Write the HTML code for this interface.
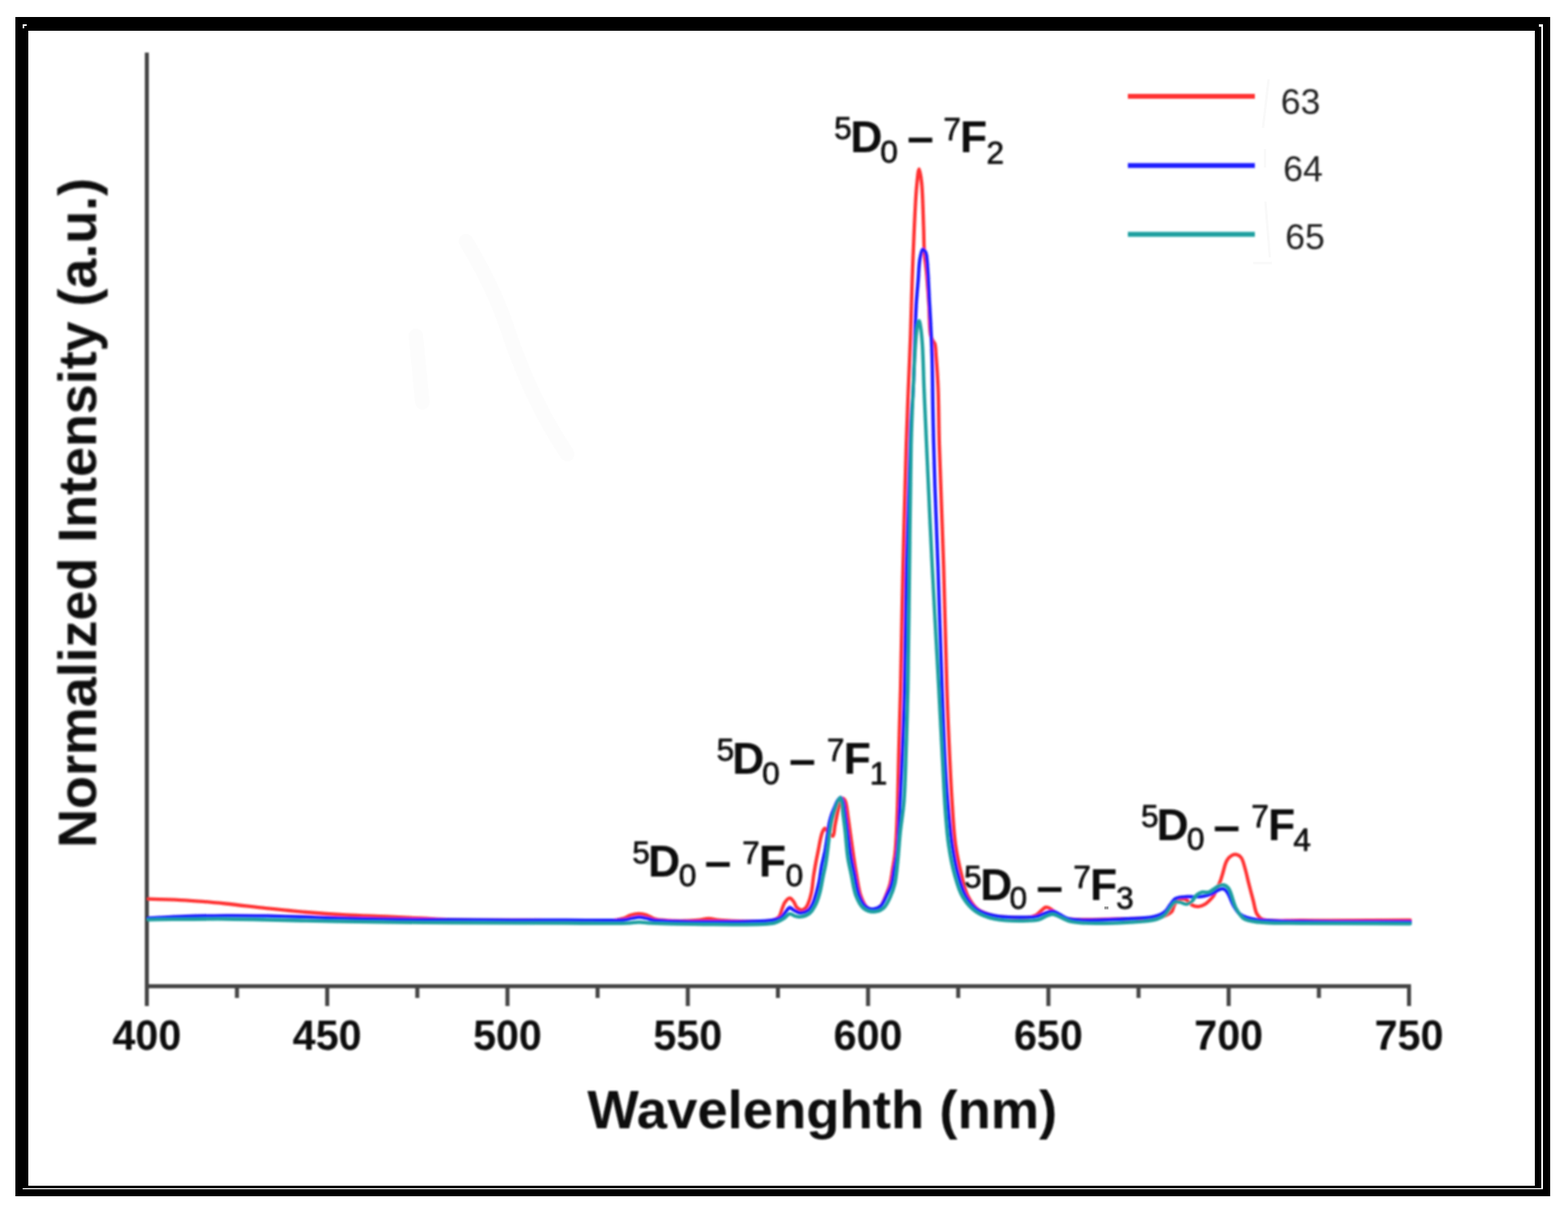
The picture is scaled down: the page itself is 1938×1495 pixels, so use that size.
<!DOCTYPE html>
<html><head><meta charset="utf-8"><title>Normalized emission spectra</title>
<style>
html,body{margin:0;padding:0;background:#fff;}
body{width:1938px;height:1495px;overflow:hidden;position:relative;}
svg{position:absolute;left:0;top:0;display:block;}
.s{font-size:39px;font-weight:normal;stroke:#0a0a0a;stroke-width:0.8px;}
.d{font-size:59px;}
</style></head>
<body>
<svg width="1938" height="1495" viewBox="0 0 1938 1495">
<defs><filter id="soft" x="-0.05" y="-0.05" width="1.1" height="1.1"><feGaussianBlur stdDeviation="0.8"/></filter></defs>
<rect x="0" y="0" width="1938" height="1495" fill="#fff"/>
<!-- frame -->
<rect x="19" y="21" width="1897" height="1457" fill="#000"/>
<rect x="35" y="38" width="1862" height="1427" fill="#fff"/>
<rect x="1905" y="30" width="2" height="1439" fill="#fff"/>
<rect x="28" y="1468" width="1879" height="1.3" fill="#fff"/>
<rect x="28" y="30" width="5" height="2" fill="#fff"/>
<rect x="28" y="30" width="2" height="5" fill="#fff"/>
<rect x="1902" y="30" width="5" height="3" fill="#fff"/>
<!-- faint strokes -->
<g stroke="#fcfcfc" stroke-width="18" stroke-linecap="round" fill="none">
<path d="M576,298 C595,330 615,370 625,400 C638,440 660,500 701,561"/>
<path d="M514,415 L522,497"/>
</g>
<g stroke="#f9f9f9" stroke-width="3" fill="none">
<path d="M1568,98 L1561,158"/>
<path d="M1563.5,184 L1563.5,207"/>
<path d="M1564,249 L1569.5,318"/>
<path d="M1549,325 L1572,325"/>
</g>
<!-- axes -->
<g filter="url(#soft)" stroke="#444" stroke-width="5" fill="none">
<line x1="181.5" y1="65" x2="181.5" y2="1243"/>
<line x1="179" y1="1218.5" x2="1744" y2="1218.5"/>
<line x1="181.5" y1="1218.5" x2="181.5" y2="1243"/>
<line x1="292.9" y1="1218.5" x2="292.9" y2="1233"/>
<line x1="404.4" y1="1218.5" x2="404.4" y2="1243"/>
<line x1="515.8" y1="1218.5" x2="515.8" y2="1233"/>
<line x1="627.2" y1="1218.5" x2="627.2" y2="1243"/>
<line x1="738.6" y1="1218.5" x2="738.6" y2="1233"/>
<line x1="850.1" y1="1218.5" x2="850.1" y2="1243"/>
<line x1="961.5" y1="1218.5" x2="961.5" y2="1233"/>
<line x1="1072.9" y1="1218.5" x2="1072.9" y2="1243"/>
<line x1="1184.3" y1="1218.5" x2="1184.3" y2="1233"/>
<line x1="1295.8" y1="1218.5" x2="1295.8" y2="1243"/>
<line x1="1407.2" y1="1218.5" x2="1407.2" y2="1233"/>
<line x1="1518.6" y1="1218.5" x2="1518.6" y2="1243"/>
<line x1="1630.1" y1="1218.5" x2="1630.1" y2="1233"/>
<line x1="1741.5" y1="1218.5" x2="1741.5" y2="1243"/>
</g>
<!-- curves -->
<g filter="url(#soft)" fill="none" stroke-width="4.3" stroke-linejoin="round" stroke-linecap="round">
<path stroke="#ff3232" d="M183.0,1110.7 C198.5,1111.2 213.8,1111.4 229.5,1112.3 C245.8,1113.3 262.5,1114.9 279.0,1116.5 C295.5,1118.2 312.1,1120.4 328.6,1122.2 C345.1,1123.9 361.7,1125.6 378.2,1127.0 C394.7,1128.4 411.2,1129.6 427.7,1130.5 C444.2,1131.4 461.3,1131.8 477.2,1132.5 C492.0,1133.1 506.0,1133.9 520.0,1134.5 C533.6,1135.1 544.0,1135.9 560.0,1136.3 C584.0,1136.9 618.5,1136.9 650.0,1137.0 C684.8,1137.1 742.4,1139.0 760.0,1137.0 C765.6,1136.4 767.6,1135.6 771.0,1134.5 C774.2,1133.4 776.9,1131.4 780.0,1130.5 C783.1,1129.6 786.3,1129.0 789.5,1129.0 C792.7,1129.0 795.9,1129.5 799.0,1130.5 C802.1,1131.5 804.7,1133.9 808.0,1135.0 C811.6,1136.2 814.8,1136.6 820.0,1137.0 C829.7,1137.8 851.8,1137.8 862.0,1137.0 C867.9,1136.5 871.3,1134.8 876.0,1134.8 C880.7,1134.8 883.6,1136.5 890.0,1137.0 C903.7,1138.1 944.1,1139.7 955.0,1137.0 C959.0,1136.0 960.8,1135.0 962.7,1133.0 C964.6,1130.9 965.0,1127.2 966.2,1124.3 C967.4,1121.3 968.2,1117.5 970.0,1115.0 C971.6,1112.8 974.2,1109.7 976.1,1109.7 C977.8,1109.7 979.6,1112.3 981.0,1114.0 C982.5,1115.9 982.9,1119.1 984.5,1120.8 C986.0,1122.4 988.2,1124.1 990.1,1124.3 C991.7,1124.5 993.6,1123.6 995.0,1122.5 C996.5,1121.3 997.4,1119.5 998.5,1117.2 C1000.1,1113.7 1001.7,1108.4 1002.8,1103.2 C1004.2,1096.9 1004.6,1088.7 1005.6,1082.0 C1006.5,1076.0 1007.5,1070.5 1008.5,1065.0 C1009.5,1059.8 1010.6,1054.8 1011.5,1050.0 C1012.4,1045.5 1013.1,1040.9 1014.0,1037.0 C1014.8,1033.7 1015.4,1030.4 1016.5,1028.0 C1017.3,1026.2 1018.5,1023.6 1019.5,1023.5 C1020.3,1023.4 1021.1,1025.0 1022.0,1026.0 C1023.2,1027.4 1024.6,1029.8 1026.0,1031.0 C1027.1,1032.0 1028.6,1033.4 1029.5,1033.0 C1031.2,1032.2 1031.0,1024.9 1032.0,1020.0 C1033.2,1013.7 1035.0,1003.9 1036.4,998.4 C1037.3,994.9 1037.8,992.1 1039.0,990.0 C1039.8,988.5 1041.0,986.5 1042.0,986.5 C1042.9,986.5 1043.8,987.8 1044.5,989.0 C1045.5,990.8 1045.9,994.1 1046.5,997.0 C1047.1,1000.4 1047.4,1003.9 1048.0,1008.0 C1048.7,1013.3 1049.5,1019.1 1050.5,1026.0 C1051.8,1035.5 1053.8,1050.2 1055.3,1060.0 C1056.4,1067.6 1057.2,1072.8 1058.5,1080.0 C1060.0,1088.3 1061.3,1099.6 1064.0,1107.0 C1066.0,1112.6 1068.3,1118.2 1071.5,1121.0 C1073.8,1123.0 1076.8,1124.1 1079.5,1124.0 C1082.3,1123.9 1085.6,1122.3 1088.0,1120.0 C1091.1,1117.0 1093.0,1110.6 1095.0,1106.0 C1096.9,1101.6 1098.5,1097.7 1099.8,1093.0 C1101.3,1087.5 1102.0,1081.2 1103.0,1075.0 C1104.1,1068.3 1105.4,1062.1 1106.3,1054.0 C1107.5,1043.0 1108.1,1026.6 1108.6,1015.0 C1109.0,1005.7 1109.2,1000.3 1109.5,990.0 C1110.0,973.4 1110.4,947.4 1111.0,925.0 C1111.6,900.9 1112.4,879.3 1113.1,850.0 C1114.1,808.6 1114.9,750.0 1116.1,700.0 C1117.3,650.0 1118.8,590.6 1120.1,550.0 C1121.0,522.3 1121.8,503.0 1122.7,480.0 C1123.6,457.7 1124.6,436.1 1125.4,414.0 C1126.2,391.8 1126.6,369.3 1127.4,347.0 C1128.2,324.7 1129.1,300.7 1130.1,280.0 C1131.0,262.1 1131.7,243.1 1133.0,230.0 C1133.9,221.5 1134.9,209.0 1136.0,209.0 C1136.9,209.0 1138.2,218.0 1139.0,225.0 C1140.5,237.8 1140.9,264.0 1141.5,280.0 C1142.0,292.4 1141.8,303.1 1142.5,313.0 C1143.1,321.1 1144.2,326.6 1145.0,335.0 C1146.1,346.3 1147.1,361.7 1148.0,375.0 C1148.9,388.1 1148.5,406.3 1150.2,414.0 C1150.9,417.4 1152.0,419.0 1153.0,421.0 C1153.8,422.6 1154.9,423.1 1155.5,425.0 C1156.6,428.3 1156.5,433.8 1157.0,440.0 C1157.8,450.1 1158.9,464.8 1159.5,480.0 C1160.3,500.1 1160.2,522.3 1161.0,550.0 C1162.2,590.6 1164.7,650.0 1166.3,700.0 C1167.8,750.0 1168.8,806.4 1170.3,850.0 C1171.4,883.8 1172.8,914.4 1174.0,940.0 C1174.9,959.1 1175.6,973.1 1176.7,990.0 C1177.9,1007.5 1178.7,1027.3 1181.0,1043.5 C1182.9,1057.2 1185.7,1069.8 1188.5,1081.0 C1190.8,1090.4 1192.3,1099.1 1196.0,1106.5 C1199.3,1113.1 1203.1,1119.3 1208.5,1123.5 C1214.0,1127.7 1222.0,1129.9 1229.0,1131.5 C1235.8,1133.1 1243.1,1133.0 1250.0,1133.3 C1256.7,1133.6 1264.5,1134.3 1270.0,1133.6 C1273.9,1133.1 1277.2,1132.4 1280.0,1131.0 C1282.4,1129.8 1283.9,1127.6 1286.0,1126.0 C1288.2,1124.3 1290.4,1121.3 1292.8,1121.0 C1295.1,1120.7 1297.7,1122.5 1300.0,1124.0 C1302.7,1125.7 1305.0,1129.2 1308.0,1131.0 C1311.0,1132.8 1312.9,1134.0 1318.0,1135.0 C1332.0,1137.7 1379.4,1135.3 1400.0,1135.0 C1412.5,1134.8 1422.5,1135.1 1430.0,1134.0 C1434.6,1133.3 1437.8,1132.4 1441.0,1131.0 C1443.8,1129.8 1446.5,1128.4 1448.3,1126.3 C1450.1,1124.1 1450.2,1120.5 1451.6,1118.0 C1452.8,1115.7 1454.2,1113.2 1456.0,1112.0 C1457.5,1111.0 1459.3,1110.6 1461.0,1110.5 C1462.8,1110.4 1464.7,1110.8 1466.5,1111.8 C1468.7,1113.0 1470.5,1116.6 1473.0,1118.0 C1475.4,1119.4 1478.6,1120.2 1481.3,1120.1 C1484.1,1120.0 1487.1,1118.6 1489.5,1117.2 C1491.9,1115.8 1493.9,1113.6 1495.7,1111.8 C1497.3,1110.2 1498.6,1108.9 1499.9,1106.9 C1501.5,1104.5 1502.6,1101.0 1504.0,1098.0 C1505.4,1095.0 1506.9,1092.1 1508.1,1089.1 C1509.3,1086.1 1509.9,1083.5 1511.0,1080.0 C1512.5,1075.3 1513.9,1067.3 1516.4,1063.2 C1518.2,1060.2 1520.6,1057.9 1522.9,1056.7 C1524.7,1055.8 1526.6,1055.4 1528.4,1055.8 C1530.3,1056.2 1532.5,1057.5 1534.0,1059.5 C1536.2,1062.3 1537.3,1067.7 1538.7,1072.5 C1540.4,1078.1 1541.7,1084.7 1543.3,1091.1 C1545.1,1098.0 1547.1,1105.7 1548.9,1112.4 C1550.5,1118.3 1551.1,1125.1 1553.5,1129.2 C1555.2,1132.2 1556.3,1134.1 1560.0,1135.7 C1568.5,1139.4 1589.3,1136.8 1610.0,1137.1 C1643.7,1137.6 1698.7,1137.0 1743.0,1137.0"/>
<path stroke="#1e1eff" d="M183.0,1134.3 C198.5,1133.6 213.8,1132.7 229.5,1132.2 C245.7,1131.7 262.5,1131.4 279.0,1131.3 C295.5,1131.2 312.1,1131.4 328.6,1131.7 C345.1,1132.0 361.7,1132.5 378.2,1133.0 C394.7,1133.5 410.0,1134.1 427.7,1134.6 C448.1,1135.1 471.7,1135.7 493.7,1136.0 C515.8,1136.3 533.8,1136.4 560.0,1136.5 C598.0,1136.7 661.0,1137.1 700.0,1137.0 C728.0,1137.0 759.5,1137.9 772.0,1136.5 C776.5,1136.0 778.0,1135.1 781.0,1134.5 C784.0,1134.0 787.0,1133.2 790.0,1133.2 C793.0,1133.2 796.0,1133.9 799.0,1134.5 C802.0,1135.1 803.1,1136.2 808.0,1136.8 C827.4,1139.2 934.4,1140.0 955.0,1136.8 C960.6,1135.9 962.7,1135.3 965.5,1133.4 C968.0,1131.7 969.3,1128.5 971.2,1126.4 C972.8,1124.6 974.4,1121.7 976.1,1121.5 C977.7,1121.3 979.2,1123.4 981.0,1124.3 C983.3,1125.5 985.9,1127.6 988.7,1127.8 C991.7,1128.0 995.9,1126.8 998.5,1125.0 C1001.0,1123.2 1002.6,1120.3 1004.2,1117.2 C1006.2,1113.3 1007.6,1107.7 1009.0,1103.0 C1010.4,1098.3 1011.5,1094.0 1012.5,1089.0 C1013.7,1083.2 1014.3,1076.4 1015.5,1070.0 C1016.8,1063.4 1018.7,1056.7 1020.0,1050.0 C1021.2,1043.4 1022.1,1036.0 1023.0,1030.0 C1023.7,1025.2 1024.1,1021.0 1025.0,1017.0 C1025.8,1013.4 1026.6,1010.3 1027.7,1007.0 C1028.8,1003.6 1030.3,1000.2 1031.7,997.0 C1033.0,994.0 1034.1,990.5 1035.7,988.5 C1036.8,987.1 1038.4,985.2 1039.5,985.5 C1040.8,985.8 1041.7,989.4 1042.5,992.0 C1043.5,995.5 1043.7,1000.1 1044.4,1005.0 C1045.3,1011.2 1046.2,1018.2 1047.3,1026.0 C1048.7,1036.0 1050.2,1050.2 1051.9,1060.0 C1053.2,1067.6 1054.5,1072.8 1056.0,1080.0 C1057.8,1088.3 1059.0,1099.7 1062.0,1107.0 C1064.2,1112.5 1067.1,1117.8 1070.4,1120.5 C1072.9,1122.5 1075.9,1123.6 1078.8,1123.5 C1081.9,1123.4 1085.8,1121.7 1088.5,1119.3 C1091.8,1116.4 1093.8,1110.5 1096.0,1106.0 C1098.2,1101.7 1100.3,1097.8 1101.8,1093.0 C1103.5,1087.6 1103.9,1081.2 1105.0,1075.0 C1106.2,1068.3 1107.7,1062.1 1108.7,1054.0 C1110.0,1043.0 1110.6,1026.6 1111.3,1015.0 C1111.8,1005.7 1112.0,1000.3 1112.5,990.0 C1113.3,973.4 1114.6,947.4 1115.5,925.0 C1116.5,900.9 1117.3,879.3 1118.0,850.0 C1119.0,808.6 1119.5,744.9 1120.5,700.0 C1121.4,663.3 1122.5,631.5 1123.5,600.0 C1124.4,571.8 1124.9,542.1 1126.0,520.0 C1126.8,504.4 1127.9,495.6 1128.7,480.0 C1129.8,457.9 1130.7,419.1 1131.4,400.0 C1131.8,389.3 1132.0,383.6 1132.5,375.0 C1133.1,365.9 1134.0,356.2 1134.8,347.0 C1135.5,337.9 1135.7,327.1 1137.0,320.0 C1137.9,315.1 1139.0,308.5 1140.5,308.0 C1141.3,307.8 1142.3,309.1 1143.0,310.0 C1143.8,311.0 1144.3,311.8 1144.8,314.0 C1146.8,322.1 1147.8,357.0 1148.8,373.7 C1149.5,385.8 1150.0,394.3 1150.5,405.0 C1151.1,416.3 1151.6,426.0 1152.0,440.0 C1152.6,461.2 1152.7,493.3 1153.3,520.0 C1153.9,546.7 1154.6,571.8 1155.5,600.0 C1156.5,631.5 1158.0,663.3 1159.3,700.0 C1160.9,744.9 1162.7,806.4 1164.3,850.0 C1165.6,883.8 1166.6,914.4 1168.0,940.0 C1169.0,959.1 1169.9,973.1 1171.3,990.0 C1172.8,1007.5 1174.3,1027.3 1176.7,1043.5 C1178.8,1057.2 1181.0,1069.7 1184.2,1081.0 C1186.9,1090.8 1189.4,1100.2 1193.8,1107.7 C1197.6,1114.2 1201.9,1119.9 1207.7,1123.8 C1213.6,1127.8 1220.7,1129.6 1229.1,1131.3 C1240.4,1133.5 1260.8,1133.6 1269.8,1133.4 C1274.3,1133.3 1276.7,1133.2 1280.0,1132.5 C1283.4,1131.8 1286.6,1130.1 1290.0,1129.0 C1293.5,1127.9 1297.5,1125.5 1300.9,1125.8 C1304.1,1126.0 1306.9,1128.5 1310.0,1130.0 C1313.3,1131.6 1314.9,1133.8 1320.0,1135.0 C1333.7,1138.2 1380.2,1136.1 1400.0,1135.0 C1411.7,1134.4 1420.7,1134.0 1428.0,1132.0 C1433.0,1130.6 1436.9,1128.9 1440.0,1126.3 C1442.8,1124.0 1444.1,1120.7 1446.2,1118.0 C1448.2,1115.4 1450.1,1112.2 1452.4,1110.6 C1454.3,1109.3 1456.3,1108.9 1458.6,1108.5 C1461.2,1108.0 1464.1,1108.1 1467.0,1108.0 C1470.2,1107.9 1473.7,1108.1 1477.0,1108.0 C1480.3,1107.9 1483.6,1107.9 1487.0,1107.3 C1490.6,1106.7 1494.8,1105.7 1497.8,1104.4 C1500.2,1103.4 1501.9,1101.7 1504.0,1100.7 C1506.0,1099.7 1508.4,1098.3 1510.2,1098.2 C1511.6,1098.1 1512.9,1098.5 1514.0,1099.2 C1515.4,1100.1 1516.3,1101.6 1517.6,1103.6 C1519.8,1107.1 1522.1,1114.5 1524.7,1119.0 C1527.0,1122.9 1529.2,1126.7 1532.2,1129.2 C1534.9,1131.5 1538.0,1132.6 1541.5,1133.8 C1545.6,1135.2 1549.2,1135.9 1555.4,1136.6 C1567.6,1138.0 1587.8,1138.1 1610.0,1138.5 C1644.6,1139.2 1698.7,1138.8 1743.0,1139.0"/>
<path stroke="#1a9f9f" d="M183.0,1136.3 C215.0,1136.0 246.7,1135.3 279.0,1135.5 C311.8,1135.7 343.9,1136.9 378.2,1137.6 C415.2,1138.3 460.5,1139.2 493.7,1139.6 C518.8,1139.9 533.8,1139.9 560.0,1140.0 C598.0,1140.2 660.6,1140.4 700.0,1140.5 C728.9,1140.6 759.6,1141.4 775.0,1140.7 C781.9,1140.4 785.0,1139.3 790.0,1139.3 C795.0,1139.3 797.4,1140.3 805.0,1140.7 C829.0,1141.8 937.3,1143.6 955.0,1140.8 C958.9,1140.2 959.7,1139.5 962.0,1138.5 C964.4,1137.5 966.7,1136.3 969.0,1134.8 C971.4,1133.2 973.6,1129.6 976.1,1129.2 C978.4,1128.9 980.7,1131.4 983.1,1132.0 C985.4,1132.6 987.6,1133.1 990.1,1132.7 C993.3,1132.2 997.6,1130.9 1000.6,1128.5 C1003.9,1125.9 1006.3,1121.3 1008.4,1117.2 C1010.6,1112.9 1011.9,1108.2 1013.3,1103.0 C1015.0,1096.7 1016.2,1088.3 1017.5,1082.0 C1018.6,1076.9 1019.6,1073.0 1020.5,1068.0 C1021.5,1062.4 1022.2,1056.2 1023.0,1050.0 C1023.8,1043.5 1024.6,1035.9 1025.4,1030.0 C1026.1,1025.2 1026.7,1021.0 1027.5,1017.0 C1028.2,1013.4 1029.0,1010.4 1030.0,1007.0 C1031.0,1003.4 1032.3,999.4 1033.5,996.0 C1034.5,993.1 1035.4,989.9 1036.5,988.0 C1037.1,986.9 1037.9,985.4 1038.5,985.5 C1039.3,985.7 1039.8,989.4 1040.3,992.0 C1041.0,995.6 1041.2,1000.2 1041.8,1005.0 C1042.6,1011.2 1043.6,1018.2 1044.5,1026.0 C1045.6,1036.0 1046.4,1050.2 1047.9,1060.0 C1049.1,1067.6 1050.5,1072.8 1052.0,1080.0 C1053.8,1088.3 1055.0,1099.5 1058.0,1107.0 C1060.4,1113.0 1063.0,1118.8 1067.0,1122.0 C1070.5,1124.9 1075.8,1126.6 1080.0,1126.5 C1084.1,1126.4 1088.7,1124.7 1092.0,1122.0 C1095.6,1119.1 1097.7,1113.8 1100.0,1109.0 C1102.5,1103.8 1104.5,1098.4 1106.0,1092.0 C1107.9,1084.1 1108.5,1074.6 1109.5,1065.0 C1110.7,1054.1 1111.3,1042.0 1112.5,1030.0 C1113.8,1017.1 1116.1,1005.0 1117.3,990.0 C1118.8,971.0 1119.2,947.4 1120.0,925.0 C1120.8,900.9 1121.5,879.3 1122.1,850.0 C1123.0,808.6 1123.4,750.0 1124.1,700.0 C1124.8,650.0 1125.1,590.6 1126.1,550.0 C1126.8,522.3 1127.7,501.7 1128.7,480.0 C1129.5,461.1 1130.4,440.8 1131.4,427.0 C1132.1,418.1 1132.4,410.6 1133.5,405.0 C1134.2,401.5 1135.2,396.5 1136.0,396.5 C1136.7,396.5 1137.4,401.5 1138.0,405.0 C1138.9,410.6 1139.5,418.1 1140.1,427.0 C1141.0,440.8 1141.3,461.1 1142.1,480.0 C1143.0,501.7 1143.9,522.3 1145.2,550.0 C1147.0,590.6 1149.7,650.0 1152.2,700.0 C1154.7,750.0 1158.0,806.3 1160.3,850.0 C1162.1,883.8 1163.6,913.0 1165.0,940.0 C1166.2,962.0 1166.9,981.6 1168.3,1000.0 C1169.5,1015.7 1170.4,1029.6 1172.4,1043.5 C1174.3,1056.5 1176.7,1069.7 1179.9,1081.0 C1182.6,1090.8 1185.0,1100.0 1189.5,1107.7 C1193.7,1114.8 1199.1,1121.4 1205.6,1126.0 C1212.2,1130.7 1219.9,1133.5 1229.0,1135.5 C1240.6,1138.1 1259.7,1138.0 1270.0,1137.7 C1276.2,1137.5 1280.9,1137.2 1285.0,1136.0 C1288.2,1135.1 1290.3,1133.1 1293.0,1132.0 C1295.6,1130.9 1298.3,1129.4 1301.0,1129.5 C1303.9,1129.6 1306.6,1131.7 1310.0,1133.0 C1314.4,1134.7 1317.9,1137.6 1325.0,1139.0 C1340.3,1142.0 1380.7,1140.5 1400.0,1139.4 C1412.3,1138.7 1422.8,1138.0 1430.0,1135.7 C1434.4,1134.3 1437.3,1132.8 1440.0,1130.4 C1442.6,1128.1 1443.9,1124.7 1446.0,1122.0 C1448.0,1119.4 1450.0,1115.8 1452.4,1114.7 C1454.3,1113.8 1456.4,1114.4 1458.6,1114.7 C1461.2,1115.1 1464.3,1117.4 1466.8,1117.2 C1469.1,1117.0 1471.1,1115.5 1473.0,1113.9 C1475.3,1111.9 1476.9,1107.6 1479.2,1105.6 C1481.1,1104.0 1483.1,1102.9 1485.4,1102.3 C1487.9,1101.7 1491.2,1103.0 1493.7,1102.3 C1496.0,1101.7 1497.9,1099.9 1499.9,1098.6 C1502.0,1097.3 1503.9,1095.4 1506.0,1094.5 C1508.0,1093.7 1510.2,1092.9 1512.2,1093.3 C1514.4,1093.7 1516.5,1095.0 1518.4,1097.4 C1522.0,1101.9 1524.0,1115.0 1527.5,1121.7 C1530.3,1126.9 1532.5,1131.8 1536.8,1134.7 C1541.5,1137.9 1547.5,1138.3 1555.4,1139.4 C1568.7,1141.2 1587.8,1140.5 1610.0,1140.8 C1644.6,1141.3 1698.7,1141.1 1743.0,1141.3"/>
</g>
<!-- tick labels -->
<g filter="url(#soft)" font-family="'Liberation Sans', Arial, Helvetica, sans-serif" font-weight="bold" font-size="51" fill="#0a0a0a" text-anchor="middle">
<text x="181.5" y="1297">400</text>
<text x="404.4" y="1297">450</text>
<text x="627.2" y="1297">500</text>
<text x="850.1" y="1297">550</text>
<text x="1072.9" y="1297">600</text>
<text x="1295.8" y="1297">650</text>
<text x="1518.6" y="1297">700</text>
<text x="1741.5" y="1297">750</text>
</g>
<!-- axis titles -->
<g filter="url(#soft)" font-family="'Liberation Sans', Arial, Helvetica, sans-serif" font-weight="bold" font-size="67" fill="#0a0a0a">
<text x="726" y="1393.5" font-size="67.3">Wavelenghth (nm)</text>
<text transform="translate(118.7,1047.5) rotate(-90)" font-size="66.5">Normalized Intensity (a.u.)</text>
</g>
<!-- peak labels -->
<g filter="url(#soft)" font-family="'Liberation Sans', Arial, Helvetica, sans-serif" font-weight="bold" font-size="55" fill="#0a0a0a">
<text><tspan class="s" x="1031.1" y="171.6">5</tspan><tspan x="1051.1" y="188.0">D</tspan><tspan class="s" x="1087.9" y="201.0">0</tspan><tspan class="d" x="1121.2" y="189.1">–</tspan><tspan class="s" x="1166.0" y="172.6">7</tspan><tspan x="1186.5" y="188.3">F</tspan><tspan class="s" x="1219.2" y="202.0">2</tspan></text>
<text><tspan class="s" x="885.7" y="939.8">5</tspan><tspan x="905.1" y="956.3">D</tspan><tspan class="s" x="942.1" y="968.9">0</tspan><tspan class="d" x="975.2" y="957.9">–</tspan><tspan class="s" x="1022.0" y="940.4">7</tspan><tspan x="1042.7" y="956.0">F</tspan><tspan class="s" x="1074.9" y="969.3">1</tspan></text>
<text><tspan class="s" x="781.4" y="1066.6">5</tspan><tspan x="800.9" y="1083.0">D</tspan><tspan class="s" x="839.0" y="1095.2">0</tspan><tspan class="d" x="871.0" y="1084.3">–</tspan><tspan class="s" x="917.2" y="1067.4">7</tspan><tspan x="938.1" y="1083.0">F</tspan><tspan class="s" x="970.9" y="1095.2">0</tspan></text>
<text><tspan class="s" x="1191.4" y="1097.3">5</tspan><tspan x="1211.5" y="1112.0">D</tspan><tspan class="s" x="1247.7" y="1122.6">0</tspan><tspan class="d" x="1281.0" y="1114.9">–</tspan><tspan class="s" x="1326.6" y="1097.4">7</tspan><tspan x="1347.2" y="1112.0">F</tspan><tspan class="s" x="1379.4" y="1123.1">3</tspan></text>
<text><tspan class="s" x="1410.2" y="1022.4">5</tspan><tspan x="1429.6" y="1037.7">D</tspan><tspan class="s" x="1467.1" y="1050.3">0</tspan><tspan class="d" x="1499.7" y="1039.9">–</tspan><tspan class="s" x="1546.6" y="1022.4">7</tspan><tspan x="1567.2" y="1037.7">F</tspan><tspan class="s" x="1598.6" y="1051.1">4</tspan></text>
</g>
<rect x="1365" y="1120" width="5" height="3.5" fill="#999"/>
<!-- legend -->
<g filter="url(#soft)" stroke-width="6" fill="none">
<line x1="1394" y1="119" x2="1551" y2="119" stroke="#ff3232"/>
<line x1="1394" y1="204.5" x2="1551" y2="204.5" stroke="#1e1eff"/>
<line x1="1394" y1="289.5" x2="1551" y2="289.5" stroke="#1a9f9f"/>
</g>
<g filter="url(#soft)" font-family="'Liberation Sans', Arial, Helvetica, sans-serif" font-size="44" fill="#222">
<text x="1583" y="140.5">63</text>
<text x="1586" y="224">64</text>
<text x="1588.5" y="307.5">65</text>
</g>
</svg>
</body></html>
